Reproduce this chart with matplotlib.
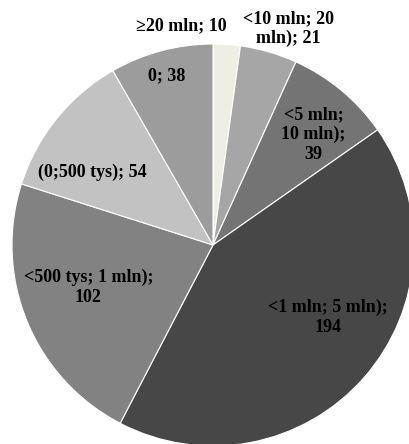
import matplotlib
matplotlib.use("Agg")
import matplotlib.pyplot as plt

labels = ["≥20 mln; 10", "<10 mln; 20\nmln); 21", "<5 mln;\n10 mln);\n39",
          "<1 mln; 5 mln);\n194", "<500 tys; 1 mln);\n102", "(0;500 tys); 54", "0; 38"]
values = [10, 21, 39, 194, 102, 54, 38]
colors = ["#eeeee2", "#a6a6a6", "#747474", "#474747", "#828282", "#c2c2c2", "#9c9c9c"]

# label positions in pie units (radius = 1)
label_xy = [(-0.16, 1.09), (0.375, 1.075), (0.50, 0.55), (0.57, -0.36),
            (-0.62, -0.21), (-0.60, 0.36), (-0.23, 0.84)]

W, H = 409, 444
cx, cy, R = 213, 245, 201
fig = plt.figure(figsize=(W / 100, H / 100), dpi=100)
ax = fig.add_axes([(cx - R) / W, (H - cy - R) / H, 2 * R / W, 2 * R / H])
ax.pie(values, colors=colors, startangle=90, counterclock=False, radius=1,
       wedgeprops=dict(edgecolor="white", linewidth=0.8))
for (x, y), t in zip(label_xy, labels):
    ax.text(x, y, t, ha="center", va="center", fontsize=13, fontweight="bold",
            family=["Liberation Serif", "DejaVu Serif"], linespacing=1.2, clip_on=False)
ax.set_xlim(-1, 1)
ax.set_ylim(-1, 1)
ax.set_aspect("equal")
ax.axis("off")
fig.savefig("out.png", dpi=100)
